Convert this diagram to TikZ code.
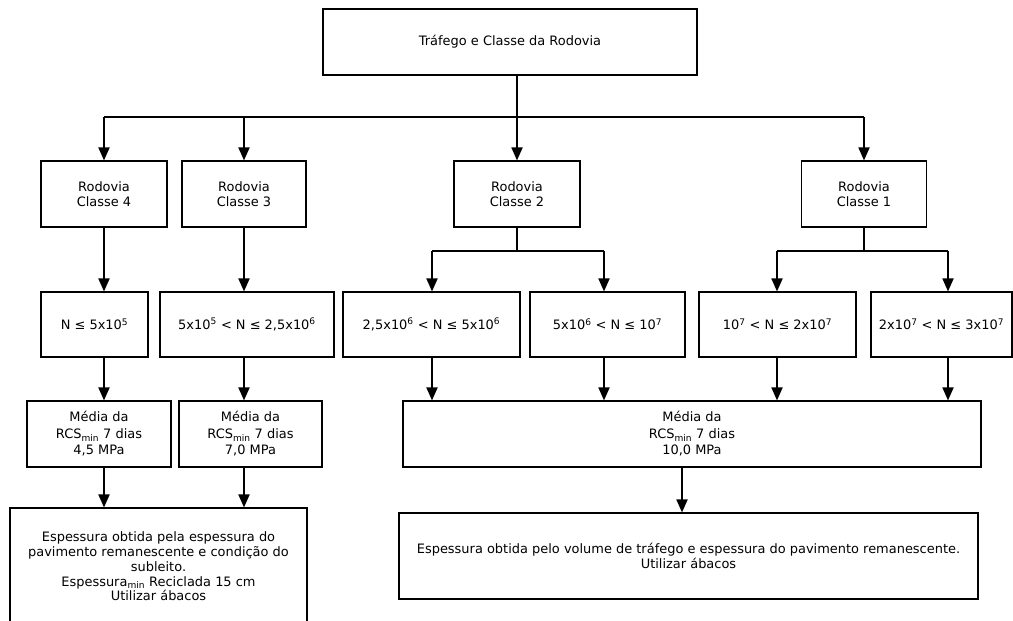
\documentclass[tikz,border=0pt]{standalone}
\usepackage{fontspec}
\setmainfont{DejaVu Sans}
\usetikzlibrary{arrows.meta, calc}

\begin{document}
\begin{tikzpicture}[x=1bp, y=-1bp,
    box/.style={draw, line width=1.1bp, align=center, inner sep=2bp, font=\fontsize{13}{14.8}\selectfont},
    media/.style={box, minimum height=66bp, font=\fontsize{13}{16.5}\selectfont},
    faixa/.style={box, minimum height=65bp},
    seta/.style={line width=1.8bp, -{Triangle[width=11bp,length=13bp]}},
    linha/.style={line width=1.5bp}]
  \useasboundingbox (0,0) rectangle (1013,621);
  \node[box, minimum width=374bp, minimum height=66bp] (trafego) at (510,42) {Tráfego e Classe da Rodovia};
  \node[box, minimum width=126bp, minimum height=66bp] (c4) at (104,194) {Rodovia\\Classe 4};
  \node[box, minimum width=124bp, minimum height=66bp] (c3) at (244,194) {Rodovia\\Classe 3};
  \node[box, minimum width=126bp, minimum height=66bp] (c2) at (517,194) {Rodovia\\Classe 2};
  \node[box, minimum width=125bp, minimum height=66bp] (c1) at (864,194) {Rodovia\\Classe 1};
  \node[faixa, minimum width=107bp] (n1) at (94.5,324.5) {N ≤ 5x10\textsuperscript{5}};
  \node[faixa, minimum width=174bp] (n2) at (247,324.5) {5x10\textsuperscript{5} < N ≤ 2,5x10\textsuperscript{6}};
  \node[faixa, minimum width=177bp] (n3) at (431.5,324.5) {2,5x10\textsuperscript{6} < N ≤ 5x10\textsuperscript{6}};
  \node[faixa, minimum width=155bp] (n4) at (607.5,324.5) {5x10\textsuperscript{6} < N ≤ 10\textsuperscript{7}};
  \node[faixa, minimum width=157bp] (n5) at (777.5,324.5) {10\textsuperscript{7} < N ≤ 2x10\textsuperscript{7}};
  \node[faixa, minimum width=141bp] (n6) at (941.5,324.5) {2x10\textsuperscript{7} < N ≤ 3x10\textsuperscript{7}};
  \node[media, minimum width=144bp] (m1) at (99,434) {Média da\\RCS\textsubscript{min} 7 dias\\4,5 MPa};
  \node[media, minimum width=143bp] (m2) at (250.5,434) {Média da\\RCS\textsubscript{min} 7 dias\\7,0 MPa};
  \node[media, minimum width=578bp] (m3) at (692,434) {Média da\\RCS\textsubscript{min} 7 dias\\10,0 MPa};
  \node[box, minimum width=297bp, minimum height=117bp] (b1) at (158.5,566.5) {Espessura obtida pela espessura do\\pavimento remanescente e condição do\\subleito.\\Espessura\textsubscript{min} Reciclada 15 cm\\Utilizar ábacos};
  \node[box, minimum width=579bp, minimum height=86bp] (b2) at (688.5,556) {Espessura obtida pelo volume de tráfego e espessura do pavimento remanescente.\\Utilizar ábacos};
  \coordinate (barra) at (0,117);
  \coordinate (s2a) at (432,251);
  \coordinate (s2b) at (604,251);
  \coordinate (s1a) at (777,251);
  \coordinate (s1b) at (948,251);
  \draw[seta] (trafego.south -| c2.north) -- (c2.north);
  \draw[linha] (barra -| c4.north) -- (barra -| c1.north);
  \foreach \c in {c4,c3,c1}
    \draw[seta] (barra -| \c.north) -- (\c.north);
  \draw[seta] (c4.south) -- (c4.south |- n1.north);
  \draw[seta] (c3.south) -- (c3.south |- n2.north);
  \draw[linha] (c2.south) -- (c2.south |- s2a);
  \draw[linha] (s2a) -- (s2b);
  \draw[linha] (c1.south) -- (c1.south |- s1a);
  \draw[linha] (s1a) -- (s1b);
  \draw[seta] (s2a) -- (s2a |- n3.north);
  \draw[seta] (s2b) -- (s2b |- n4.north);
  \draw[seta] (s1a) -- (s1a |- n5.north);
  \draw[seta] (s1b) -- (s1b |- n6.north);
  \draw[seta] (n1.south -| c4.south) -- (m1.north -| c4.south);
  \draw[seta] (n2.south -| c3.south) -- (m2.north -| c3.south);
  \draw[seta] (n3.south -| s2a) -- (m3.north -| s2a);
  \draw[seta] (n4.south -| s2b) -- (m3.north -| s2b);
  \draw[seta] (n5.south -| s1a) -- (m3.north -| s1a);
  \draw[seta] (n6.south -| s1b) -- (m3.north -| s1b);
  \draw[seta] (m1.south -| c4.south) -- (b1.north -| c4.south);
  \draw[seta] (m2.south -| c3.south) -- (b1.north -| c3.south);
  \draw[seta] ([xshift=-10bp]m3.south) -- ([xshift=-10bp]m3.south |- b2.north);
\end{tikzpicture}
\end{document}
